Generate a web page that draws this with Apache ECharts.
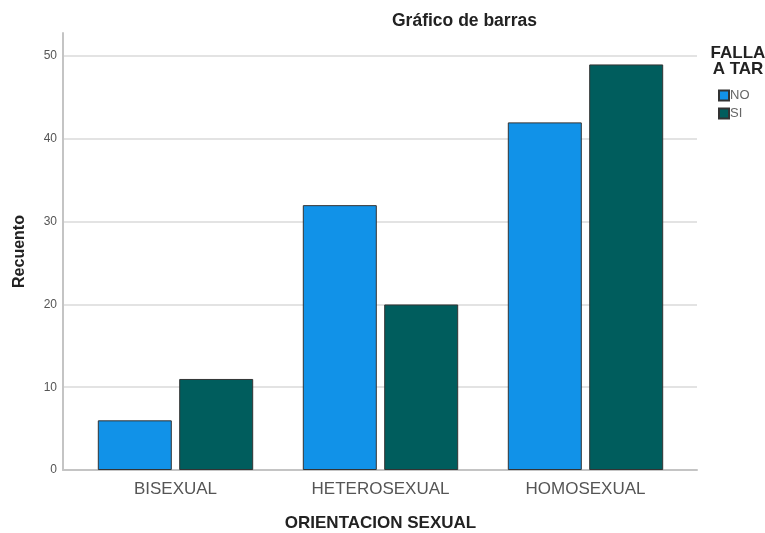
<!DOCTYPE html>
<html>
<head>
<meta charset="utf-8">
<script src="https://cdn.jsdelivr.net/npm/echarts@6/dist/echarts.min.js"></script>
<style>
	html, body { margin: 0; padding: 0; background: #fff; }
	#chart { width: 765px; height: 533px; }
</style>
</head>
<body>
<div id="chart"></div>
<script>
	// datos
	var categorias = ['BISEXUAL', 'HETEROSEXUAL', 'HOMOSEXUAL'];
	var serieNO = [6, 32, 42];
	var serieSI = [11, 20, 49];
	var yMax = 52.8;
	var yIntervalo = 10;

	var myChart = echarts.init(document.getElementById('chart'));
	var fuente = '"Liberation Sans", Arial, sans-serif';

	var option = {
		animation: false,
		backgroundColor: '#fff',
		title: [{
			text: 'Gráfico de barras',
			left: 387,
			top: 7,
			textStyle: { fontFamily: fuente, fontSize: 17.5, fontWeight: 'bold', color: '#222' }
		}, {
			text: 'FALLA\nA TAR',
			left: 733,
			top: 40,
			textAlign: 'center',
			textStyle: { fontFamily: fuente, fontSize: 17, fontWeight: 'bold', color: '#222', lineHeight: 16 }
		}],
		legend: {
			orient: 'vertical',
			left: 713,
			top: 84,
			itemWidth: 10,
			itemHeight: 10,
			itemGap: 5,
			icon: 'rect',
			textStyle: { fontFamily: fuente, fontSize: 13, color: '#666', padding: [0, 0, 0, -4] },
			data: ['NO', 'SI']
		},
		grid: [
			// ejes y lineas de fondo
			{ left: 63, right: 68, top: 33, bottom: 63, outerBoundsMode: 'none' },
			// barras
			{ left: 73, right: 77, top: 33, bottom: 63, outerBoundsMode: 'none' }
		],
		xAxis: [{
			gridIndex: 0,
			type: 'category',
			data: ['', '', ''],
			axisLine: { lineStyle: { color: '#c4c4c4', width: 2 } },
			axisTick: { show: false },
			axisLabel: { show: false }
		}, {
			gridIndex: 1,
			type: 'category',
			data: categorias,
			axisLine: { show: false },
			axisTick: { show: false },
			axisLabel: { fontFamily: fuente, fontSize: 17, color: '#555', margin: 11 },
			name: 'ORIENTACION SEXUAL',
			nameLocation: 'middle',
			nameGap: 45,
			nameTextStyle: { fontFamily: fuente, fontSize: 17, fontWeight: 'bold', color: '#222' }
		}],
		yAxis: [{
			gridIndex: 0,
			type: 'value',
			min: 0,
			max: yMax,
			interval: yIntervalo,
			axisLine: { show: true, lineStyle: { color: '#c4c4c4', width: 2 } },
			axisTick: { show: false },
			axisLabel: { fontFamily: fuente, fontSize: 12, color: '#555', margin: 6, showMaxLabel: false },
			splitLine: { show: true, showMaxLine: false, lineStyle: { color: '#dadada', width: 1.5 } },
			name: 'Recuento',
			nameLocation: 'middle',
			nameGap: 35,
			nameTextStyle: { fontFamily: fuente, fontSize: 16, fontWeight: 'bold', color: '#222' }
		}, {
			gridIndex: 1,
			type: 'value',
			min: 0,
			max: yMax,
			show: false
		}],
		series: [{
			name: 'NO',
			type: 'bar',
			xAxisIndex: 1,
			yAxisIndex: 1,
			barWidth: 74,
			barGap: '10%',
			itemStyle: { color: '#1192e8', borderColor: '#333', borderWidth: 1 },
			data: serieNO
		}, {
			name: 'SI',
			type: 'bar',
			xAxisIndex: 1,
			yAxisIndex: 1,
			barWidth: 74,
			barGap: '10%',
			itemStyle: { color: '#005d5d', borderColor: '#333', borderWidth: 1 },
			data: serieSI
		}]
	};

	myChart.setOption(option);
</script>
</body>
</html>
